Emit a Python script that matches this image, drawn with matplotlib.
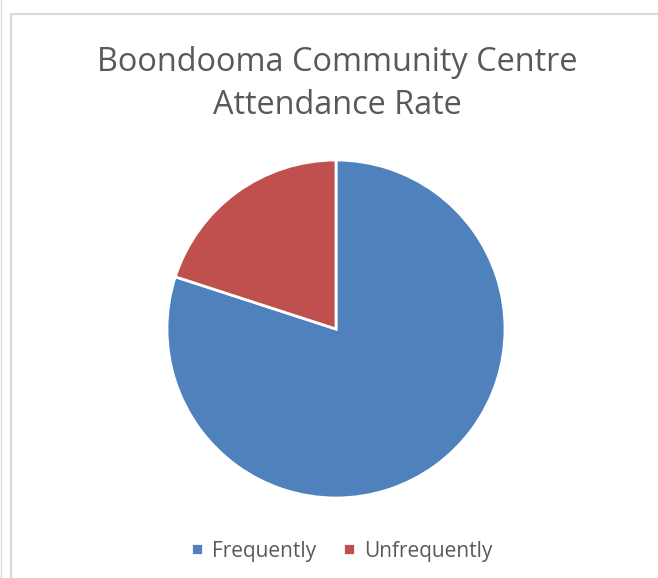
import matplotlib
matplotlib.use('Agg')
import matplotlib.pyplot as plt
from matplotlib.patches import Rectangle
from matplotlib.lines import Line2D

plt.rcParams['font.family'] = ['Open Sans', 'DejaVu Sans']

labels = ['Frequently', 'Unfrequently']
values = [80, 20]
colors = ['#4F81BD', '#C0504D']
title = 'Boondooma Community Centre\nAttendance Rate'

W, H = 658, 578
fig = plt.figure(figsize=(W / 100, H / 100), dpi=100)

# chart border (light grey frame, partly cut off)
fig.patches.append(Rectangle((11 / W, -0.05), 1.1, (H - 14) / H + 0.05,
                             transform=fig.transFigure, fill=False,
                             edgecolor='#D9D9D9', linewidth=1.5))
fig.lines.append(Line2D([0.5 / W, 0.5 / W], [0, 1], transform=fig.transFigure,
                        color='#D9D9D9', linewidth=1))

# pie: center (336, 329) px, radius 169 px
cx, cy, r = 336, 329, 169
ax = fig.add_axes([(cx - r) / W, (H - cy - r) / H, 2 * r / W, 2 * r / H])
wedges, _ = ax.pie(values, colors=colors, startangle=90, counterclock=False,
                   wedgeprops=dict(edgecolor='white', linewidth=2))
ax.set_xlim(-1, 1)
ax.set_ylim(-1, 1)
ax.set_aspect('equal')
ax.axis('off')

fig.text(337 / W, 1 - 84 / H, title, ha='center', va='center', fontsize=23.4,
         color='#595959', linespacing=1.42)

fig.legend(wedges, labels, loc='center', bbox_to_anchor=(342 / W, 1 - 551 / H),
           ncol=2, frameon=False, fontsize=15, labelcolor='#595959',
           handlelength=0.55, handleheight=0.55, handletextpad=0.45, columnspacing=1.3)

fig.savefig('out.png', dpi=100)
